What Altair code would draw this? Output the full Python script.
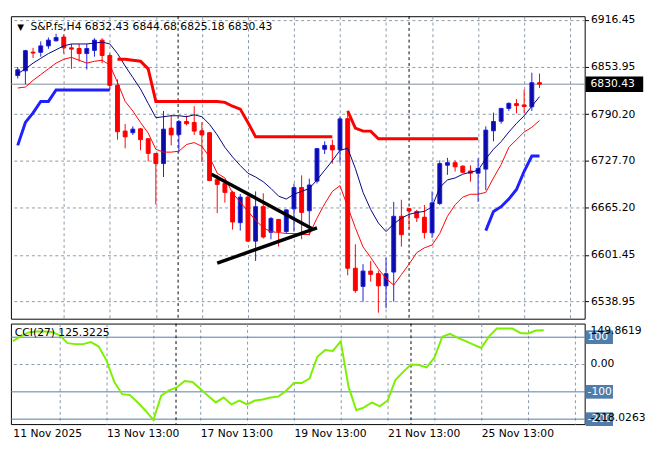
import altair as alt
import pandas as pd

# ---------------- data ----------------
opens = [6842.0, 6848.4, 6873.4, 6873.2, 6881.8, 6888.6, 6893.7, 6879.2, 6878.3, 6871.5,
         6875.8, 6889.5, 6868.9, 6828.8, 6767.5, 6765.3, 6770.5, 6757.2, 6737.6, 6723.9,
         6771.4, 6762.8, 6780.4, 6779.1, 6767.9, 6765.3, 6702.4, 6697.3, 6685.3, 6644.6,
         6678.9, 6619.9, 6666.1, 6631.8, 6649.0, 6632.7, 6663.1, 6691.8, 6660.6, 6700.4,
         6743.1, 6748.3, 6742.2, 6784.2, 6583.5, 6559.1, 6579.7, 6576.2, 6559.9, 6578.4,
         6653.2, 6663.5, 6659.7, 6652.0, 6631.0, 6670.3, 6721.7, 6725.1, 6720.4, 6714.0,
         6711.0, 6716.5, 6767.9, 6780.7, 6797.9, 6804.4, 6802.6, 6800.0, 6832.43]
highs = [6853.5, 6876.6, 6879.2, 6887.8, 6893.0, 6898.1, 6897.2, 6884.4, 6884.4, 6884.4,
         6892.1, 6892.1, 6871.5, 6836.8, 6777.1, 6773.9, 6771.7, 6758.0, 6738.0, 6794.5,
         6789.3, 6782.5, 6788.1, 6800.9, 6779.5, 6766.2, 6708.8, 6700.4, 6687.5, 6683.2,
         6681.5, 6686.6, 6684.1, 6652.3, 6649.5, 6662.6, 6696.9, 6708.1, 6703.7, 6744.4,
         6753.8, 6756.0, 6786.8, 6794.5, 6615.6, 6589.0, 6593.3, 6580.4, 6597.6, 6672.5,
         6675.4, 6664.0, 6661.8, 6668.3, 6686.6, 6728.1, 6731.6, 6728.1, 6721.7, 6721.7,
         6731.2, 6773.9, 6792.3, 6798.7, 6806.0, 6810.3, 6823.1, 6845.8, 6844.68]
lows = [6838.1, 6830.4, 6865.5, 6867.3, 6877.9, 6887.8, 6871.5, 6851.0, 6860.9, 6850.1,
        6867.3, 6858.7, 6822.7, 6756.0, 6744.4, 6762.4, 6741.8, 6726.8, 6669.0, 6705.9,
        6748.3, 6738.9, 6775.2, 6762.4, 6726.0, 6700.7, 6657.5, 6671.6, 6635.3, 6634.0,
        6619.0, 6593.3, 6623.3, 6622.4, 6612.5, 6629.7, 6632.7, 6622.4, 6627.6, 6697.3,
        6736.7, 6723.9, 6725.1, 6574.0, 6550.5, 6538.6, 6565.5, 6523.9, 6530.0, 6538.6,
        6612.5, 6636.2, 6645.5, 6623.3, 6624.1, 6668.3, 6708.8, 6713.2, 6711.0, 6699.5,
        6672.5, 6688.3, 6753.8, 6777.4, 6794.5, 6791.5, 6791.5, 6794.5, 6825.18]
closes = [6849.7, 6875.4, 6872.2, 6881.8, 6889.5, 6893.0, 6879.2, 6877.5, 6871.5, 6878.3,
          6889.5, 6868.9, 6828.8, 6766.6, 6759.8, 6770.1, 6756.0, 6737.6, 6723.9, 6770.1,
          6762.4, 6780.4, 6777.4, 6767.5, 6762.4, 6701.1, 6696.0, 6685.3, 6645.5, 6678.9,
          6619.9, 6666.1, 6625.4, 6650.3, 6632.7, 6661.8, 6691.8, 6658.4, 6695.2, 6744.0,
          6748.3, 6742.2, 6783.8, 6583.5, 6553.5, 6579.7, 6575.3, 6559.9, 6576.2, 6653.2,
          6628.5, 6660.3, 6651.1, 6631.4, 6671.2, 6723.9, 6725.1, 6719.6, 6712.3, 6711.0,
          6717.4, 6768.8, 6780.4, 6797.9, 6804.7, 6801.8, 6800.5, 6832.4, 6830.43]

ma_navy = [6844.5, 6851.0, 6858.7, 6865.1, 6871.5, 6876.6, 6881.8, 6884.4, 6884.4, 6884.4,
           6885.6, 6886.9, 6884.4, 6871.5, 6854.8, 6839.4, 6824.0, 6804.7, 6785.5, 6786.8,
           6788.1, 6788.1, 6786.8, 6789.3, 6786.8, 6776.5, 6762.4, 6745.7, 6732.8, 6721.3,
           6711.0, 6705.9, 6699.5, 6690.5, 6680.2, 6676.3, 6682.8, 6686.6, 6690.5, 6702.0,
           6714.9, 6727.7, 6741.8, 6744.4, 6717.4, 6685.3, 6662.2, 6644.2, 6632.7, 6643.0,
           6650.7, 6655.8, 6658.4, 6659.7, 6666.1, 6691.8, 6702.0, 6704.6, 6709.7, 6712.3,
           6714.9, 6730.3, 6743.1, 6753.4, 6766.2, 6777.8, 6788.1, 6800.9, 6813.7]
ma_red = [6825.3, 6826.6, 6835.6, 6843.3, 6851.0, 6858.7, 6863.8, 6866.4, 6862.5, 6858.7,
          6861.2, 6862.5, 6856.1, 6833.0, 6807.3, 6794.5, 6779.1, 6764.9, 6743.1, 6739.3,
          6739.3, 6740.5, 6749.5, 6752.1, 6747.0, 6732.8, 6711.0, 6704.6, 6684.1, 6672.5,
          6659.7, 6648.1, 6637.8, 6632.7, 6631.4, 6630.1, 6630.1, 6628.8, 6628.8, 6650.7,
          6669.9, 6686.6, 6694.3, 6666.1, 6637.8, 6612.1, 6598.0, 6582.6, 6569.8, 6560.8,
          6574.9, 6589.0, 6604.4, 6610.9, 6614.7, 6630.1, 6653.2, 6668.6, 6678.9, 6682.8,
          6682.8, 6685.3, 6704.6, 6722.6, 6745.7, 6756.0, 6766.2, 6772.6, 6781.6]

# thick stepped red line (two stretches)
upper_a_start = 13
upper_a = [6863.8, 6863.8, 6862.5, 6861.2, 6851.0, 6807.3, 6807.3, 6807.3, 6807.3, 6807.3,
           6807.3, 6807.3, 6807.3, 6807.3, 6806.0, 6800.9, 6797.0, 6779.1, 6759.8, 6759.8,
           6759.8, 6759.8, 6759.8, 6759.8, 6759.8, 6759.8, 6759.8, 6759.8, 6759.8]
upper_b_start = 43
upper_b = [6794.5, 6771.4, 6767.5, 6767.5, 6757.2, 6757.2, 6757.2, 6757.2, 6757.2, 6757.2,
           6757.2, 6757.2, 6757.2, 6757.2, 6757.2, 6757.2, 6757.2, 6757.2]
# thick stepped blue line (two stretches)
lower_a_start = 0
lower_a = [6748.3, 6779.1, 6791.9, 6807.3, 6807.3, 6822.7, 6822.7, 6822.7, 6822.7, 6822.7,
           6822.7, 6822.7, 6822.7]
lower_b_start = 61
lower_b = [6634.0, 6659.7, 6666.1, 6676.3, 6689.2, 6713.6, 6734.1, 6734.1]

# hand-drawn triangle trendlines (bar index, price)
trend_x = [25.25, 38.375, 26.0, 39.0]
trend_p = [6709.7, 6636.5, 6590.3, 6637.8]
trend_id = ["upper", "upper", "lower", "lower"]

separators = [20.9, 51.0]

cci = [85.4, 103.2, 117.4, 121.0, 121.0, 119.2, 106.8, 78.3, 74.7, 74.7,
       81.9, 65.8, 14.2, -64.1, -108.5, -112.1, -138.8, -169.1, -202.9, -113.9,
       -94.3, -83.6, -60.5, -64.1, -89.0, -113.9, -138.8, -121.0, -145.9, -131.7,
       -145.9, -131.7, -128.1, -121.0, -117.4, -96.1, -67.6, -67.6, -51.6, 28.5,
       53.4, 49.8, 85.4, -81.9, -167.3, -156.6, -138.8, -153.0, -131.7, -56.9,
       -26.7, 0.0, -1.8, -10.7, 24.9, 101.4, 112.1, 97.9, 85.4, 73.0,
       60.5, 103.2, 131.7, 131.7, 131.7, 115.7, 113.9, 124.6, 125.3225]
cci_levels = [100, -100, -200]
cci_min = -218.0263
cci_max = 149.8619

price_ticks = [6538.95, 6601.45, 6665.20, 6727.70, 6790.20, 6853.95, 6916.45]
grid_idx = [0, 6, 12, 18, 24, 30, 36, 42, 48, 54, 60, 66, 72]
time_idx = [0, 12, 24, 36, 48, 60]
time_labels = ["11 Nov 2025", "13 Nov 13:00", "17 Nov 13:00", "19 Nov 13:00",
               "21 Nov 13:00", "25 Nov 13:00"]

symbol = "S&P.fs,H4"
last_price = closes[-1]

# ---------------- styling ----------------
W, H1, H2 = 588, 310, 103
XDOM = [-0.25, 73.25]
YDOM = [6515.8, 6921.6]
FONT = "DejaVu Sans"
GRID = "#8a98a6"
BLUE_BODY = "#0b0ba6"
BLUE_EDGE = "#1d1de0"
RED = "#ff0000"
LEVEL = "#4f7cab"

n = len(opens)
idx = list(range(n))
candles = pd.DataFrame({"i": idx, "open": opens, "high": highs, "low": lows, "close": closes})
candles["dir"] = ["up" if c >= o else "down" for o, c in zip(opens, closes)]

xscale = alt.Scale(domain=XDOM, nice=False, zero=False)
yscale = alt.Scale(domain=YDOM, nice=False, zero=False)
cscale = alt.Scale(domain=[cci_min, cci_max], nice=False, zero=False)

x_main_axis = alt.Axis(values=grid_idx[1:], grid=True, gridColor=GRID, gridDash=[3, 3],
                       gridWidth=1, labels=False, ticks=False, domain=False, title=None)
y_main_axis = alt.Axis(orient="right", values=price_ticks, format=".2f", grid=True,
                       gridColor=GRID, gridDash=[3, 3], gridWidth=1, tickSize=4,
                       tickColor="black", labelFont=FONT, labelFontSize=11,
                       labelColor="black", labelPadding=2, domain=False, title=None)

label_expr = " : ".join(f"datum.value == {i} ? '{t}'" for i, t in zip(time_idx, time_labels)) + " : ''"
x_cci_axis = alt.Axis(values=grid_idx, grid=True, gridColor=GRID, gridDash=[3, 3], gridWidth=1,
                      gridOpacity={"condition": {"test": "datum.value == 0", "value": 0}, "value": 1},
                      labelExpr=label_expr, labelAlign="left", labelFlush=False,
                      labelOverlap=False, labelFont=FONT, labelFontSize=11,
                      labelColor="black", labelPadding=4, ticks=False, domain=False, title=None)


def X(f="i"):
    return alt.X(f"{f}:Q", scale=xscale, axis=x_main_axis)


def Y(f):
    return alt.Y(f"{f}:Q", scale=yscale, axis=y_main_axis)


def Xc(f="i"):
    return alt.X(f"{f}:Q", scale=xscale, axis=x_cci_axis)


def Yc(f):
    return alt.Y(f"{f}:Q", scale=cscale, axis=None)


stroke_dir = alt.Stroke("dir:N", scale=alt.Scale(domain=["up", "down"], range=[BLUE_EDGE, RED]), legend=None)
fill_dir = alt.Fill("dir:N", scale=alt.Scale(domain=["up", "down"], range=[BLUE_BODY, RED]), legend=None)

wicks = alt.Chart(candles).mark_rule(strokeWidth=1).encode(x=X(), y=Y("low"), y2="high", stroke=stroke_dir)
bodies = alt.Chart(candles).mark_bar(size=4, strokeWidth=1).encode(
    x=X(), y=Y("open"), y2="close", fill=fill_dir, stroke=stroke_dir)

navy_line = alt.Chart(pd.DataFrame({"i": idx, "v": ma_navy})).mark_line(
    color="#000080", strokeWidth=1).encode(x=X(), y=Y("v"))
red_line = alt.Chart(pd.DataFrame({"i": idx, "v": ma_red})).mark_line(
    color=RED, strokeWidth=1).encode(x=X(), y=Y("v"))


def segs(parts):
    rows = []
    for k, (start, vals) in enumerate(parts):
        for j, v in enumerate(vals):
            rows.append({"i": start + j, "v": v, "seg": k})
    return pd.DataFrame(rows)


upper_df = segs([(upper_a_start, upper_a), (upper_b_start, upper_b)])
lower_df = segs([(lower_a_start, lower_a), (lower_b_start, lower_b)])
upper_line = alt.Chart(upper_df).mark_line(color=RED, strokeWidth=3).encode(
    x=X(), y=Y("v"), detail="seg:N")
lower_line = alt.Chart(lower_df).mark_line(color="#1f1fff", strokeWidth=3).encode(
    x=X(), y=Y("v"), detail="seg:N")

trend = alt.Chart(pd.DataFrame({"x": trend_x, "p": trend_p, "line": trend_id})).mark_line(
    color="black", strokeWidth=3.5).encode(x=X("x"), y=Y("p"), detail="line:N")

price_df = pd.DataFrame({"p": [last_price], "label": [f"{last_price:.2f}"]})
price_rule = alt.Chart(price_df).mark_rule(color="#7d8c9a", strokeWidth=1).encode(y=Y("p"))
sep_main = alt.Chart(pd.DataFrame({"x": separators})).mark_rule(
    color="black", strokeDash=[3, 3], strokeWidth=1).encode(x=X("x"))
price_box = alt.Chart(price_df).mark_rule(color="black", strokeWidth=16, strokeCap="butt").encode(
    x=alt.value(W + 1), x2=alt.value(W + 60), y=Y("p"))
price_txt = alt.Chart(price_df).mark_text(color="white", align="left", baseline="middle",
                                          font=FONT, fontSize=11).encode(
    x=alt.value(W + 6), y=Y("p"), text="label:N")

title_df = pd.DataFrame({"t": [f"{symbol}  {opens[-1]:.2f} {highs[-1]:.2f} {lows[-1]:.2f} {closes[-1]:.2f}"]})
title_txt = alt.Chart(title_df).mark_text(align="left", baseline="middle", font=FONT,
                                          fontSize=11, color="black").encode(
    x=alt.value(20), y=alt.value(11), text="t:N")
tri = alt.Chart(pd.DataFrame({"t": ["▼"]})).mark_text(align="center", baseline="middle",
                                                        font=FONT, fontSize=9, color="black").encode(
    x=alt.value(10), y=alt.value(11), text="t:N")

main = alt.layer(sep_main, price_rule, wicks, bodies, navy_line, red_line, upper_line,
                 lower_line, trend, price_box, price_txt, tri, title_txt).properties(width=W, height=H1)

# ---------------- CCI panel ----------------
cci_df = pd.DataFrame({"i": idx, "v": cci})
zero_rule = alt.Chart(pd.DataFrame({"v": [0]})).mark_rule(
    color=GRID, strokeDash=[3, 3], strokeWidth=1).encode(y=Yc("v"))
level_rules = alt.Chart(pd.DataFrame({"v": cci_levels})).mark_rule(
    color=LEVEL, strokeWidth=1).encode(y=Yc("v"))
sep_cci = alt.Chart(pd.DataFrame({"x": separators})).mark_rule(
    color="black", strokeDash=[3, 3], strokeWidth=1).encode(x=Xc("x"))
cci_line = alt.Chart(cci_df).mark_line(color="#7cf000", strokeWidth=2).encode(x=Xc(), y=Yc("v"))

level_df = pd.DataFrame({"v": cci_levels, "t": [f"{v}" for v in cci_levels]})
level_boxes = alt.Chart(level_df).mark_rule(color=LEVEL, strokeWidth=14, strokeCap="butt").encode(
    x=alt.value(W + 1), x2=alt.value(W + 29), y=Yc("v"))
level_txt = alt.Chart(level_df).mark_text(color="white", align="left", baseline="middle",
                                          font=FONT, fontSize=11).encode(
    x=alt.value(W + 3), y=Yc("v"), text="t:N")
zero_txt = alt.Chart(pd.DataFrame({"v": [0], "t": ["0.00"]})).mark_text(
    color="black", align="left", baseline="middle", font=FONT, fontSize=11).encode(
    x=alt.value(W + 6), y=Yc("v"), text="t:N")
max_txt = alt.Chart(pd.DataFrame({"v": [cci_max], "t": [f"{cci_max:.4f}"]})).mark_text(
    color="black", align="left", baseline="top", dy=2, font=FONT, fontSize=11).encode(
    x=alt.value(W + 6), y=Yc("v"), text="t:N")
min_txt = alt.Chart(pd.DataFrame({"v": [cci_min], "t": [f"{cci_min:.4f}"]})).mark_text(
    color="black", align="left", baseline="bottom", dy=-1, font=FONT, fontSize=11).encode(
    x=alt.value(W + 6), y=Yc("v"), text="t:N")
cci_title = alt.Chart(pd.DataFrame({"t": [f"CCI(27) {cci[-1]:.4f}"]})).mark_text(
    align="left", baseline="middle", font=FONT, fontSize=11, color="black").encode(
    x=alt.value(4), y=alt.value(10), text="t:N")

cci_panel = alt.layer(zero_rule, level_rules, sep_cci, cci_line, level_boxes, level_txt,
                      zero_txt, max_txt, min_txt, cci_title).properties(width=W, height=H2)

chart = alt.vconcat(main, cci_panel, spacing=3).properties(
    padding={"left": 0, "top": 0, "right": 0, "bottom": 0}, background="white"
).resolve_scale(x="independent", y="independent").configure_view(stroke="black", strokeWidth=1)

chart.save("out.html", embed_options={"renderer": "svg", "actions": False})
